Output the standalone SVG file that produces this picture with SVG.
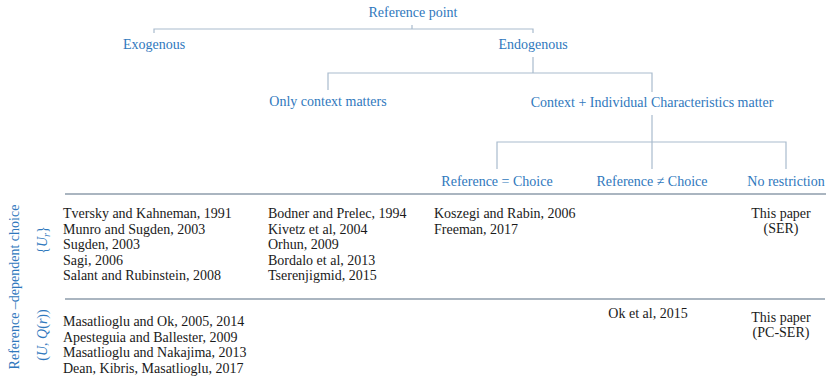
<svg xmlns="http://www.w3.org/2000/svg" width="826" height="391" viewBox="0 0 826 391">
<style>
text{font-family:"Liberation Serif","DejaVu Serif",serif;font-size:14px}
.b{fill:#2f78bd}
.k{fill:#1a1a1a}
.m{text-anchor:middle}
.t{fill:none;stroke:#a9bbcd;stroke-width:1.2}
.r{fill:none;stroke:#8e9dac;stroke-width:1.3}
</style>
<rect width="826" height="391" fill="#fff"/>
<g id="connectors">
<path class="t" d="M412,25V29M154,33V29H533V33"/>
<path class="t" d="M533,57V73M328,90V73H652V92"/>
<path class="t" d="M652,115V142M497,169V142H786V169M652,142V169"/>
<path class="r" d="M65,194H826M65,299H825"/>
</g>
<g id="reference-point"><text class="b m" x="413" y="17">Reference point</text></g>
<g id="exogenous"><text class="b m" x="154" y="49">Exogenous</text></g>
<g id="endogenous"><text class="b m" x="533" y="49">Endogenous</text></g>
<g id="only-context"><text class="b m" x="328" y="106">Only context matters</text></g>
<g id="context-individual"><text class="b m" x="652" y="107">Context + Individual Characteristics matter</text></g>
<g id="ref-eq-choice"><text class="b m" x="497" y="186">Reference = Choice</text></g>
<g id="ref-neq-choice"><text class="b m" x="652" y="186">Reference ≠ Choice</text></g>
<g id="no-restriction"><text class="b m" x="786" y="186">No restriction</text></g>
<g id="row-labels">
<text class="b m" transform="translate(19,287) rotate(-90)">Reference –dependent choice</text>
<text class="b m" transform="translate(47,240) rotate(-90)">{<tspan font-style="italic">U<tspan font-size="10" dy="3">r</tspan></tspan><tspan dy="-3">}</tspan></text>
<text class="b m" transform="translate(47,335) rotate(-90)">(<tspan font-style="italic">U</tspan>, <tspan font-style="italic">Q</tspan>(<tspan font-style="italic">r</tspan>))</text>
</g>
<g id="exogenous-refs" class="k">
<text class="k" x="63" y="218">Tversky and Kahneman, 1991</text>
<text class="k" x="63" y="233.5">Munro and Sugden, 2003</text>
<text class="k" x="63" y="249">Sugden, 2003</text>
<text class="k" x="63" y="264.5">Sagi, 2006</text>
<text class="k" x="63" y="280">Salant and Rubinstein,  2008</text>
<text class="k" x="63" y="326">Masatlioglu and Ok, 2005, 2014</text>
<text class="k" x="63" y="341.5">Apesteguia and Ballester, 2009</text>
<text class="k" x="63" y="357">Masatlioglu and Nakajima, 2013</text>
<text class="k" x="63" y="372.5">Dean, Kibris, Masatlioglu, 2017</text>
</g>
<g id="context-refs">
<text class="k" x="268" y="218">Bodner and Prelec, 1994</text>
<text class="k" x="268" y="233.5">Kivetz et al, 2004</text>
<text class="k" x="268" y="249">Orhun, 2009</text>
<text class="k" x="268" y="264.5">Bordalo et al, 2013</text>
<text class="k" x="268" y="280">Tserenjigmid, 2015</text>
</g>
<g id="choice-refs">
<text class="k" x="434" y="218">Koszegi and Rabin, 2006</text>
<text class="k" x="434" y="233.5">Freeman, 2017</text>
</g>
<g id="neq-refs"><text class="k m" x="648" y="318">Ok et al, 2015</text></g>
<g id="this-paper-ser">
<text class="k m" x="781" y="218">This  paper</text>
<text class="k m" x="781" y="233">(SER)</text>
</g>
<g id="this-paper-pcser">
<text class="k m" x="781" y="322">This  paper</text>
<text class="k m" x="781" y="337">(PC-SER)</text>
</g>
</svg>
